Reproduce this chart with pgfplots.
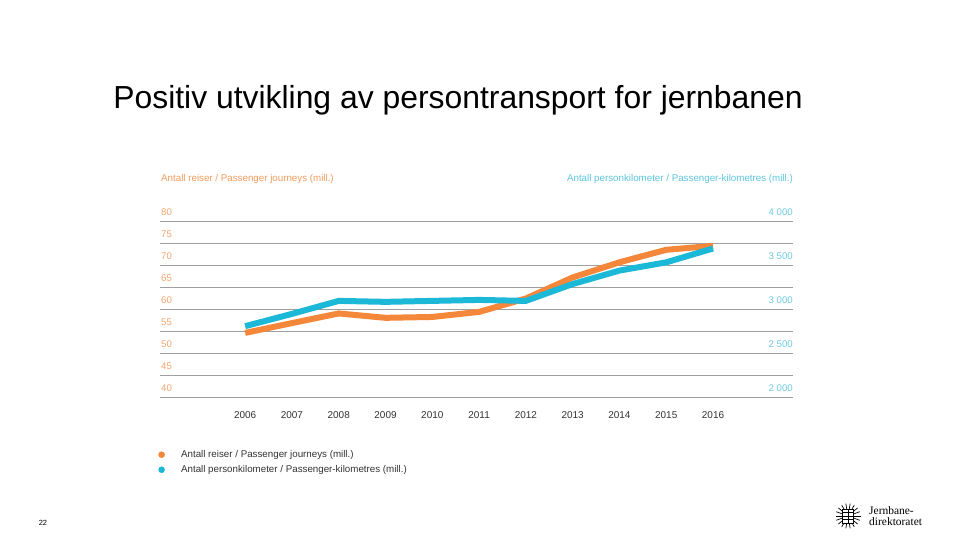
\documentclass[border=0pt]{standalone}
\usepackage{pgfplots}
\pgfplotsset{compat=1.18}
\usepackage{fontspec}
\setmainfont{Liberation Sans}
\newfontfamily\logofont{Liberation Serif}
\definecolor{cOr}{HTML}{F5873A}
\definecolor{cBl}{HTML}{1CB8D8}
\definecolor{cOrL}{HTML}{F3A671}
\definecolor{cBlL}{HTML}{6ECBE0}
\definecolor{cOrH}{HTML}{F29B5C}
\definecolor{cBlH}{HTML}{5EC6DF}
\definecolor{cTxt}{HTML}{333333}
\begin{document}
\begin{tikzpicture}[x=1bp,y=1bp]
\fill[white] (0,0) rectangle (960,540);
% title
\node[font=\fontsize{32}{36}\selectfont, anchor=center] at (458,440) {Positiv utvikling av persontransport for jernbanen};
% headers
\node[font=\fontsize{9.8}{11}\selectfont, text=cOrH, anchor=west, inner sep=0] at (161,361) {Antall reiser / Passenger journeys (mill.)};
\node[font=\fontsize{9.8}{11}\selectfont, text=cBlH, anchor=east, inner sep=0] at (793,361) {Antall personkilometer / Passenger-kilometres (mill.)};
\begin{axis}[
  at={(160bp,142.7bp)}, anchor=south west,
  scale only axis, width=633bp, height=175.6bp,
  xmin=2004.18, xmax=2017.71, ymin=40, ymax=80,
  axis line style={draw=none},
  major tick length=0,
  xtick={2006,2007,2008,2009,2010,2011,2012,2013,2014,2015,2016},
  xticklabels={2006,2007,2008,2009,2010,2011,2012,2013,2014,2015,2016},
  xticklabel style={font=\fontsize{10}{11}\selectfont, text=cTxt, yshift=-11bp},
  ytick={40,45,50,55,60,65,70,75,80},
  yticklabels={40,45,50,55,60,65,70,75,80},
  yticklabel style={font=\fontsize{9.7}{11}\selectfont, text=cOrL, anchor=south west, inner xsep=1bp, yshift=2.5bp},
  ymajorgrids, grid style={gray!75, line width=1bp},
  legend style={at={(axis description cs:-0.003,-0.29)}, anchor=north west, draw=none, fill=none,
    font=\fontsize{9.8}{11}\selectfont, text=cTxt, row sep=2.5bp, inner xsep=0, inner ysep=0},
  legend cell align=left,
  legend image code/.code={\path[fill, draw=none] (2.5bp,0) circle (3.3bp); \path[draw=none, fill=none] (2.5bp,0) -- (13bp,0);},
  legend style={nodes={inner xsep=9bp}},
]
\addplot[cOr, line width=6bp] coordinates {
(2006,54.67) (2007,56.9) (2008,59.1) (2009,58.1) (2010,58.3) (2011,59.45) (2012,62.5) (2013,67.3) (2014,70.75) (2015,73.6) (2016,74.5)};
\addlegendentry{Antall reiser / Passenger journeys (mill.)}
\addlegendimage{cBl, line width=6bp}
\addlegendentry{Antall personkilometer / Passenger-kilometres (mill.)}
\end{axis}
\begin{axis}[
  at={(160bp,142.7bp)}, anchor=south west,
  scale only axis, width=633bp, height=175.6bp,
  xmin=2004.18, xmax=2017.71, ymin=2000, ymax=4000,
  axis line style={draw=none},
  axis y line*=right, axis x line=none,
  major tick length=0,
  ytick={2000,2500,3000,3500,4000},
  yticklabels={2 000,2 500,3 000,3 500,4 000},
  yticklabel style={font=\fontsize{9.7}{11}\selectfont, text=cBlL, anchor=south east, inner xsep=0bp, yshift=2.5bp},
]
\addplot[cBl, line width=6bp] coordinates {
(2006,2810) (2007,2950) (2008,3098) (2009,3087) (2010,3098) (2011,3109) (2012,3098) (2013,3290) (2014,3443) (2015,3537) (2016,3695)};
\end{axis}
% page number
\node[font=\fontsize{7.5}{8}\selectfont, anchor=center] at (43,17) {22};
% logo
\begin{scope}[shift={(848,24)}]
  \foreach \a in {0,20,...,340} \draw[line width=0.7bp] (0,0) -- (\a:12.5);
  \fill[white] (-5.5,-7) rectangle (5.5,7);
  \draw[line width=0.9bp] (-5.5,-7) rectangle (5.5,7) (0,-7) -- (0,7) (-5.5,0) -- (5.5,0) (-5.5,3.5) -- (5.5,3.5) (-5.5,-3.5) -- (5.5,-3.5);
\end{scope}
\node[font=\logofont\fontsize{11.5}{11}\selectfont, anchor=west, align=left, inner sep=0] at (869,24) {Jernbane-\\direktoratet};
\end{tikzpicture}
\end{document}
